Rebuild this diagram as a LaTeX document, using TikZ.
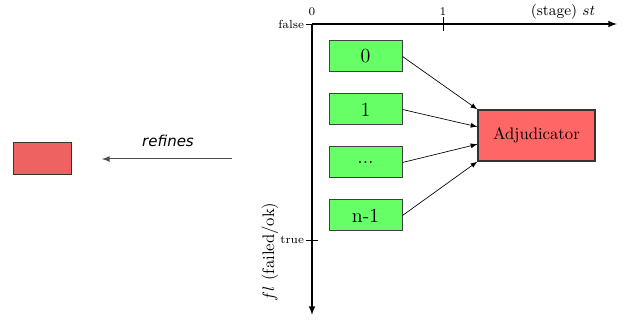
\documentclass[tikz,border=0pt]{standalone}
\usepackage{fontspec}
\newfontfamily\dejavu{DejaVu Sans}
\usetikzlibrary{arrows,calc}
\begin{document}
\begin{tikzpicture}[x=0.6pt,y=-0.6pt]
  \definecolor{procgreen}{HTML}{66FF66}
  \definecolor{adjred}{HTML}{FF6666}
  \definecolor{absred}{HTML}{EE6262}
  \tikzset{proc/.style={draw=black!75,fill=procgreen,line width=0.6pt,minimum width=43.8pt,minimum height=18.6pt,inner sep=0pt}}
  \useasboundingbox (0,0) rectangle (627,325);
  % axes
  \coordinate (o) at (312,24);
  \coordinate (stend) at (617,24);
  \coordinate (flend) at (312,315);
  \draw [line width=0.8pt,-latex] (o) -- (stend);
  \draw [line width=0.8pt,-latex] (o) -- (flend);
  \draw [line width=0.4pt] (306,24) -- (312,24);
  \draw [line width=0.4pt] (443,17) -- (443,31);
  \draw [line width=0.4pt] (306,240) -- (318,240);
  \node (t0) at (312,12) {\scriptsize 0};
  \node (t1) at (443,12) {\scriptsize 1};
  \node [anchor=east,inner sep=1pt] (tf) at (306,24) {\scriptsize false};
  \node [anchor=east,inner sep=1pt] (tt) at (306,240) {\scriptsize true};
  \node (stlabel) at (563,12) {\small (stage) $st$};
  \node [rotate=90] (fllabel) at (270,252) {$fl$ (failed/ok)};
  % processes
  \node [proc] (p0) at (365.5,56.5) {\large 0};
  \node [proc] (p1) at (365.5,109.5) {\large 1};
  \node [proc] (pd) at (365.5,162.5) {\large ...};
  \node [proc] (pn) at (365.5,215.5) {\large n-1};
  \node [draw=black!80,fill=adjred,line width=0.8pt,minimum width=70.2pt,minimum height=30.6pt,inner sep=0pt] (adj) at (536.5,135.5) {Adjudicator};
  \coordinate (in0) at (adj.north west);
  \coordinate (in1) at ($(adj.north west)!1/3!(adj.south west)$);
  \coordinate (in2) at ($(adj.north west)!2/3!(adj.south west)$);
  \coordinate (in3) at (adj.south west);
  \draw [line width=0.4pt,-latex] (p0.east) -- (in0);
  \draw [line width=0.4pt,-latex] (p1.east) -- (in1);
  \draw [line width=0.4pt,-latex] (pd.east) -- (in2);
  \draw [line width=0.4pt,-latex] (pn.east) -- (in3);
  % refinement
  \node [draw=black!80,fill=absred,line width=0.6pt,minimum width=34.8pt,minimum height=19.2pt,inner sep=0pt] (abs) at (42,159) {};
  \coordinate (rfs) at (232,159);
  \coordinate (rfe) at (102,159);
  \draw [black!70,line width=0.6pt,-latex] (rfs) -- (rfe);
  \node (rflabel) at (168,141) {\small\dejavu\itshape refines};
\end{tikzpicture}
\end{document}
